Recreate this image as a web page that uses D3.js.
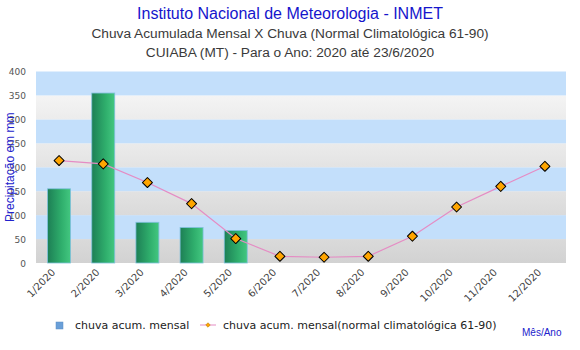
<!DOCTYPE html>
<html>
<head>
<meta charset="utf-8">
<script src="https://cdn.jsdelivr.net/npm/d3@7"></script>
<style>
  body { margin: 0; background: #fff; }
  svg { display: block; }
</style>
</head>
<body>
<div id="chart"></div>
<script>
var months = ["1/2020", "2/2020", "3/2020", "4/2020", "5/2020", "6/2020",
              "7/2020", "8/2020", "9/2020", "10/2020", "11/2020", "12/2020"];
var chuvaMensal = [155, 355, 85, 74, 68];
var normalClima = [214, 207, 168, 124, 51, 14, 12, 14, 56, 117, 160, 202];
var yTicks = [0, 50, 100, 150, 200, 250, 300, 350, 400];

var W = 580, H = 350;
var margin = {top: 71.5, right: 14, bottom: 87, left: 36};

var svg = d3.select("#chart").append("svg")
    .attr("width", W)
    .attr("height", H);

var defs = svg.append("defs");

var barGrad = defs.append("linearGradient")
    .attr("id", "barGrad")
    .attr("x1", "0%").attr("x2", "100%").attr("y1", "0%").attr("y2", "0%");
barGrad.append("stop").attr("offset", "0%").attr("stop-color", "#1d7f55");
barGrad.append("stop").attr("offset", "60%").attr("stop-color", "#2fae6c");
barGrad.append("stop").attr("offset", "100%").attr("stop-color", "#43c780");

// gray bands, lighter further up
var grayStops = [["#d2d2d2", "#dadada"], ["#dadada", "#e2e2e2"], ["#e3e3e3", "#ebebeb"], ["#ececec", "#f4f4f4"]];
grayStops.forEach(function(s, i) {
  var g = defs.append("linearGradient")
      .attr("id", "gray" + i)
      .attr("x1", "0%").attr("x2", "0%").attr("y1", "100%").attr("y2", "0%");
  g.append("stop").attr("offset", "0%").attr("stop-color", s[0]);
  g.append("stop").attr("offset", "100%").attr("stop-color", s[1]);
});

var x = d3.scaleBand()
    .domain(months)
    .range([margin.left, W - margin.right]);

var y = d3.scaleLinear()
    .domain([0, 400])
    .range([H - margin.bottom, margin.top]);

// titles
svg.append("text")
    .attr("x", W / 2).attr("y", 19)
    .attr("text-anchor", "middle")
    .style("font-family", "Liberation Sans, Arial, sans-serif")
    .style("font-size", "16px")
    .style("fill", "#1515cc")
    .text("Instituto Nacional de Meteorologia - INMET");

svg.append("text")
    .attr("x", W / 2).attr("y", 38)
    .attr("text-anchor", "middle")
    .style("font-family", "Liberation Sans, Arial, sans-serif")
    .style("font-size", "13.7px")
    .style("fill", "#3a3a3a")
    .text("Chuva Acumulada Mensal X Chuva (Normal Climatológica 61-90)");

svg.append("text")
    .attr("x", W / 2).attr("y", 57)
    .attr("text-anchor", "middle")
    .style("font-family", "Liberation Sans, Arial, sans-serif")
    .style("font-size", "13.7px")
    .style("fill", "#3a3a3a")
    .text("CUIABA (MT) - Para o Ano: 2020 até 23/6/2020");

// background bands
var bands = d3.range(0, 400, 50);
svg.append("g").selectAll("rect")
    .data(bands)
  .enter().append("rect")
    .attr("x", margin.left)
    .attr("width", W - margin.right - margin.left)
    .attr("y", function(d) { return y(d + 50); })
    .attr("height", function(d) { return y(d) - y(d + 50); })
    .attr("fill", function(d, i) {
      return i % 2 === 0 ? "url(#gray" + (i / 2) + ")" : "#c3dffb";
    });

// y axis labels
svg.append("g").selectAll("text")
    .data(yTicks)
  .enter().append("text")
    .attr("x", 26)
    .attr("y", function(d) { return y(d) + 3.5; })
    .attr("text-anchor", "end")
    .style("font-family", "DejaVu Sans, Verdana, sans-serif")
    .style("font-size", "9px")
    .style("fill", "#555")
    .text(function(d) { return d; });

svg.append("text")
    .attr("transform", "translate(14," + y(200) + ") rotate(-90)")
    .attr("text-anchor", "middle")
    .style("font-family", "Liberation Sans, Arial, sans-serif")
    .style("font-size", "12px")
    .style("fill", "#2222cc")
    .text("Precipitação em mm");

// bars
var barW = x.bandwidth() * 0.52;
svg.append("g").selectAll("rect")
    .data(chuvaMensal)
  .enter().append("rect")
    .attr("x", function(d, i) { return x(months[i]) + x.bandwidth() / 2 - barW / 2 + 1; })
    .attr("y", function(d) { return y(d); })
    .attr("width", barW)
    .attr("height", function(d) { return y(0) - y(d); })
    .attr("fill", "url(#barGrad)")
    .attr("stroke", "#7fc0dc")
    .attr("stroke-width", 0.8);

// normal line
var line = d3.line()
    .x(function(d, i) { return x(months[i]) + x.bandwidth() / 2 + 1; })
    .y(function(d) { return y(d); });

svg.append("path")
    .datum(normalClima)
    .attr("d", line)
    .attr("fill", "none")
    .attr("stroke", "#e58cc4")
    .attr("stroke-width", 1.2);

var diamond = d3.symbol().type(d3.symbolSquare).size(50);
svg.append("g").selectAll("path")
    .data(normalClima)
  .enter().append("path")
    .attr("d", diamond)
    .attr("transform", function(d, i) {
      return "translate(" + (x(months[i]) + x.bandwidth() / 2 + 1) + "," + y(d) + ") rotate(45)";
    })
    .attr("fill", "#ffa500")
    .attr("stroke", "#000")
    .attr("stroke-width", 1)
    .attr("stroke-linejoin", "round");

// x labels
svg.append("g").selectAll("text")
    .data(months)
  .enter().append("text")
    .attr("transform", function(d) {
      return "translate(" + (x(d) + x.bandwidth() / 2 - 2) + "," + (y(0) + 10) + ") rotate(-45)";
    })
    .attr("text-anchor", "end")
    .style("font-family", "DejaVu Sans, Verdana, sans-serif")
    .style("font-size", "10px")
    .style("fill", "#444")
    .text(function(d) { return d; });

// legend
var leg = svg.append("g");
leg.append("rect")
    .attr("x", 56).attr("y", 322)
    .attr("width", 7).attr("height", 7)
    .attr("fill", "#6a9fd8")
    .attr("stroke", "#5a8cc4")
    .attr("stroke-width", 0.5);
leg.append("text")
    .attr("x", 75).attr("y", 329)
    .style("font-family", "DejaVu Sans, Verdana, sans-serif")
    .style("font-size", "11px")
    .style("fill", "#222")
    .text("chuva acum. mensal");
leg.append("line")
    .attr("x1", 200).attr("x2", 216)
    .attr("y1", 325).attr("y2", 325)
    .attr("stroke", "#e58cc4");
leg.append("path")
    .attr("d", d3.symbol().type(d3.symbolSquare).size(10))
    .attr("transform", "translate(208,325) rotate(45)")
    .attr("fill", "#ffa500")
    .attr("stroke", "#b07000")
    .attr("stroke-width", 0.5);
leg.append("text")
    .attr("x", 223).attr("y", 329)
    .style("font-family", "DejaVu Sans, Verdana, sans-serif")
    .style("font-size", "11px")
    .style("fill", "#222")
    .text("chuva acum. mensal(normal climatológica 61-90)");

svg.append("text")
    .attr("x", 522).attr("y", 336)
    .style("font-family", "Liberation Sans, Arial, sans-serif")
    .style("font-size", "10px")
    .style("fill", "#2222cc")
    .text("Mês/Ano");
</script>
</body>
</html>
